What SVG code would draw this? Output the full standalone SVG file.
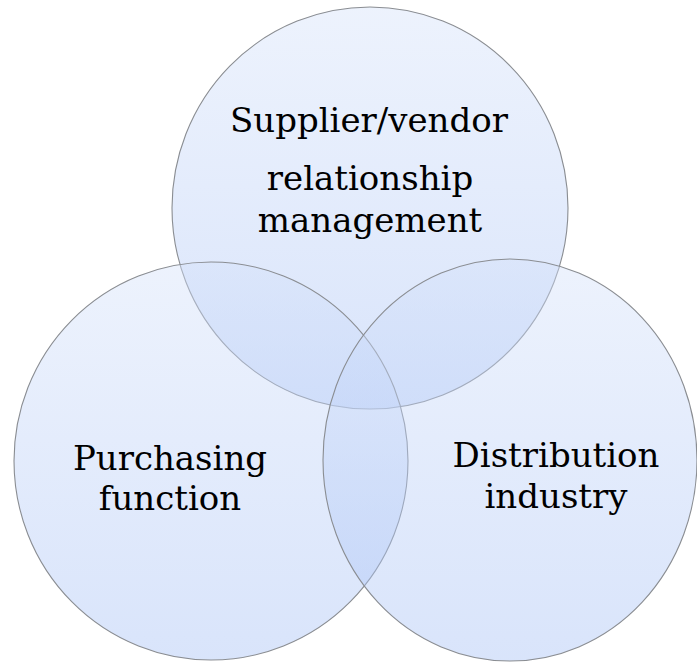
<svg xmlns="http://www.w3.org/2000/svg" width="697" height="663" viewBox="0 0 697 663">
  <defs>
    <linearGradient id="g" x1="0" y1="0" x2="0" y2="1">
      <stop offset="0" stop-color="#d4e1fa" stop-opacity="0.42"/>
      <stop offset="1" stop-color="#a4bff5" stop-opacity="0.42"/>
    </linearGradient>
  </defs>
  <style>
    .c { fill: url(#g); stroke: #8a8d92; stroke-width: 1.1; }
    .t { font-family: "DejaVu Serif", "Liberation Serif", serif; font-size: 34px; fill: #000; text-anchor: middle; }
  </style>
  <rect width="697" height="663" fill="#ffffff"/>
  <g id="top-circle">
    <ellipse class="c" cx="370" cy="208" rx="198" ry="201"/>
  </g>
  <g id="left-circle">
    <ellipse class="c" cx="211" cy="461" rx="197" ry="199"/>
  </g>
  <g id="right-circle">
    <ellipse class="c" cx="510" cy="460" rx="187" ry="201"/>
  </g>
  <g id="connectors"></g>
  <g id="labels">
    <g id="label-top">
      <text class="t" x="369" y="132">Supplier/vendor</text>
      <text class="t" x="370" y="190">relationship</text>
      <text class="t" x="370" y="232">management</text>
    </g>
    <g id="label-left">
      <text class="t" x="170" y="470">Purchasing</text>
      <text class="t" x="170" y="510">function</text>
    </g>
    <g id="label-right">
      <text class="t" x="556" y="467">Distribution</text>
      <text class="t" x="556" y="508">industry</text>
    </g>
  </g>
</svg>
